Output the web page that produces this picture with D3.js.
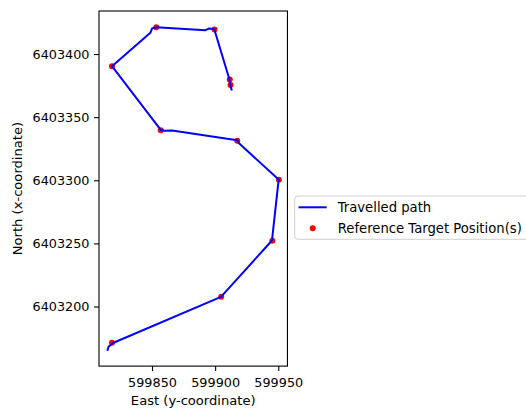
<!DOCTYPE html>
<html>
<head>
<meta charset="utf-8">
<script src="https://cdn.jsdelivr.net/npm/d3@7"></script>
<style>
  html, body { margin: 0; padding: 0; background: #fff; }
  svg { display: block; font-family: "DejaVu Sans", sans-serif; }
</style>
</head>
<body>
<svg id="chart" width="526" height="408"></svg>
<script>
// Travelled path (East / North coordinates)
const pathEast = [
  599814.8, 599815.7, 599817.7, 599819.5, 599904.6, 599944.3, 599945.1, 599950.0,
  599950.5, 599918.5, 599917.5, 599865.9, 599859.8, 599856.9, 599818.3, 599848.7,
  599850.0, 599853.4, 599892.3, 599894.9, 599898.7, 599899.5, 599911.0, 599912.2,
  599913.0
];
const pathNorth = [
  6403165.6, 6403168.4, 6403169.9, 6403171.3, 6403207.6, 6403251.5, 6403253.1, 6403297.5,
  6403300.4, 6403329.7, 6403331.7, 6403339.5, 6403339.2, 6403339.9, 6403390.4, 6403416.8,
  6403420.2, 6403421.3, 6403418.9, 6403420.2, 6403419.8, 6403419.1, 6403381.0, 6403374.7,
  6403371.9
];

// Reference target positions
const targetEast = [
  599818.3, 599904.8, 599945.3, 599950.5, 599917.5, 599856.9, 599818.3, 599853.4,
  599899.5, 599911.6, 599912.2
];
const targetNorth = [
  6403171.3, 6403207.7, 6403252.1, 6403300.4, 6403331.3, 6403339.7, 6403390.4, 6403421.3,
  6403419.5, 6403379.8, 6403375.5
];

// Tick values
const xTicks = [599850, 599900, 599950];
const yTicks = [6403200, 6403250, 6403300, 6403350, 6403400];

const svg = d3.select("#chart");
const TICK_FONT = 12.8;
const LABEL_FONT = 13.1;
const LEGEND_FONT = 13.2;

// Axis limits: data extent plus 5% margin on each side
function padded(vals) {
  const lo = d3.min(vals), hi = d3.max(vals), m = (hi - lo) * 0.05;
  return [lo - m, hi + m];
}
const xDom = padded(pathEast.concat(targetEast));
const yDom = padded(pathNorth.concat(targetNorth));

// Equal aspect: same pixels per metre on both axes
const k = 1.2625;
const plotLeft = 99, plotTop = 11;
const W = (xDom[1] - xDom[0]) * k;
const H = (yDom[1] - yDom[0]) * k;

const x = d3.scaleLinear().domain(xDom).range([plotLeft, plotLeft + W]);
const y = d3.scaleLinear().domain(yDom).range([plotTop + H, plotTop]);

// Path (drawn above the target markers)
const pts = pathEast.map((e, i) => [e, pathNorth[i]]);
const targets = targetEast.map((e, i) => [e, targetNorth[i]]);

svg.append("g").selectAll("circle")
  .data(targets).join("circle")
  .attr("cx", d => x(d[0]))
  .attr("cy", d => y(d[1]))
  .attr("r", 3)
  .attr("fill", "#ff0000");

svg.append("path")
  .datum(pts)
  .attr("fill", "none")
  .attr("stroke", "#0000ff")
  .attr("stroke-width", 2)
  .attr("stroke-linejoin", "round")
  .attr("stroke-linecap", "square")
  .attr("d", d3.line().x(d => x(d[0])).y(d => y(d[1])));

// Axes
const xAxis = svg.append("g")
  .attr("transform", `translate(0,${plotTop + H})`)
  .call(d3.axisBottom(x).tickValues(xTicks).tickFormat(d3.format("d")).tickSize(5).tickPadding(6.8).tickSizeOuter(0));
const yAxis = svg.append("g")
  .attr("transform", `translate(${plotLeft},0)`)
  .call(d3.axisLeft(y).tickValues(yTicks).tickFormat(d3.format("d")).tickSize(5).tickPadding(4.5).tickSizeOuter(0));

[xAxis, yAxis].forEach(g => {
  g.select(".domain").remove();
  g.selectAll(".tick line").attr("stroke", "#000").attr("stroke-width", 1.1);
  g.selectAll(".tick text")
    .attr("fill", "#000")
    .style("font-size", TICK_FONT + "px")
    .style("font-family", "DejaVu Sans, sans-serif");
});

// Frame
svg.append("rect")
  .attr("x", plotLeft).attr("y", plotTop)
  .attr("width", W).attr("height", H)
  .attr("fill", "none")
  .attr("stroke", "#000")
  .attr("stroke-width", 1.1);

// Axis titles
svg.append("text")
  .attr("x", plotLeft + W / 2).attr("y", 404.5)
  .attr("text-anchor", "middle")
  .style("font-size", LABEL_FONT + "px")
  .text("East (y-coordinate)");

svg.append("text")
  .attr("transform", `translate(21.6,${plotTop + H / 2}) rotate(-90)`)
  .attr("text-anchor", "middle")
  .style("font-size", LABEL_FONT + "px")
  .text("North (x-coordinate)");

// Legend
const lg = svg.append("g").attr("transform", "translate(294.7,196)");
lg.append("rect")
  .attr("x", 0).attr("y", 0)
  .attr("width", 240).attr("height", 43.3)
  .attr("rx", 3)
  .attr("fill", "#fff").attr("fill-opacity", 0.8)
  .attr("stroke", "#d0d0d0").attr("stroke-width", 1);
lg.append("line")
  .attr("x1", 3.8).attr("x2", 32)
  .attr("y1", 11.3).attr("y2", 11.3)
  .attr("stroke", "#0000ff").attr("stroke-width", 2);
lg.append("circle")
  .attr("cx", 18).attr("cy", 32.3).attr("r", 3)
  .attr("fill", "#ff0000");
lg.append("text")
  .attr("x", 43).attr("y", 11.3).attr("dy", "0.35em")
  .style("font-size", LEGEND_FONT + "px")
  .text("Travelled path");
lg.append("text")
  .attr("x", 43).attr("y", 32.3).attr("dy", "0.35em")
  .style("font-size", LEGEND_FONT + "px")
  .text("Reference Target Position(s)");
</script>
</body>
</html>
